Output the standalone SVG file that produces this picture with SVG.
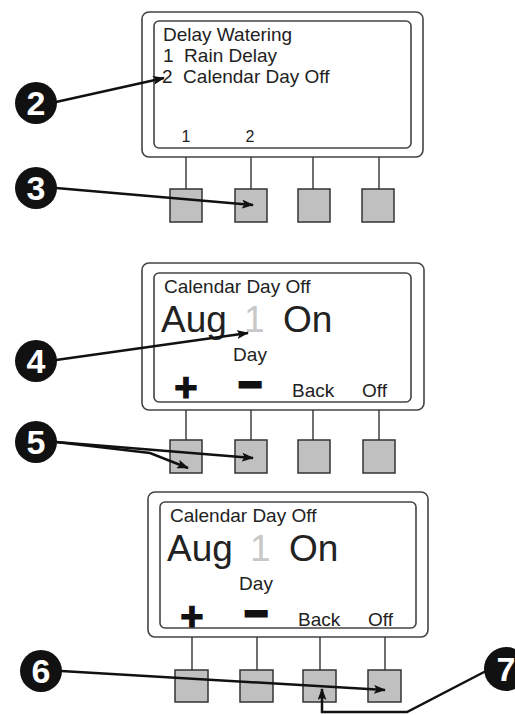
<svg xmlns="http://www.w3.org/2000/svg" width="515" height="715" viewBox="0 0 515 715">
<style>
.frame{fill:#fff;stroke:#444;stroke-width:1.6}
.screen{fill:#fff;stroke:#444;stroke-width:1.6}
.stem{stroke:#333;stroke-width:1.4}
.btn{fill:#c0c0c0;stroke:#333;stroke-width:1.5}
.t{font-family:"Liberation Sans",Arial,sans-serif;fill:#222;white-space:pre}
.s{font-size:19px}
.n{font-size:16px}
.big{font-size:37px}
.dim{fill:#c8c8c8}
.sym{font-family:"Liberation Sans",Arial,sans-serif;font-weight:bold;fill:#111;stroke:#111}
.conn{fill:none;stroke:#111;stroke-width:2.5;marker-end:url(#ah)}
.badge circle{fill:#111}
.badge text{font-family:"Liberation Sans",Arial,sans-serif;font-weight:bold;font-size:34px;fill:#fff;text-anchor:middle}
</style>
<defs>
<marker id="ah" markerUnits="userSpaceOnUse" markerWidth="12" markerHeight="9" refX="11" refY="4.5" orient="auto">
<path d="M0,0 L12,4.5 L0,9 L2.5,4.5 z" fill="#111"/>
</marker>
</defs>
<rect width="515" height="715" fill="#fff"/>

<g id="panel1">
<rect class="frame" x="142" y="12" width="281" height="145" rx="7"/>
<rect class="screen" x="154" y="21" width="257" height="127" rx="5"/>
<text class="t s" x="163" y="41">Delay Watering</text>
<text class="t s" x="163" y="62">1  Rain Delay</text>
<text class="t s" x="162" y="83">2  Calendar Day Off</text>
<text class="t n" x="186" y="142" text-anchor="middle">1</text>
<text class="t n" x="250" y="142" text-anchor="middle">2</text>
<line class="stem" x1="186" y1="157" x2="186" y2="189"/>
<line class="stem" x1="251" y1="157" x2="251" y2="189"/>
<line class="stem" x1="313" y1="157" x2="313" y2="189"/>
<line class="stem" x1="379" y1="157" x2="379" y2="189"/>
<rect class="btn" x="170" y="189" width="32" height="33"/>
<rect class="btn" x="235" y="189" width="32" height="33"/>
<rect class="btn" x="298" y="189" width="32" height="33"/>
<rect class="btn" x="362" y="189" width="32" height="33"/>
</g>

<g id="panel2">
<rect class="frame" x="142" y="263" width="282" height="147" rx="7"/>
<rect class="screen" x="154" y="273" width="257" height="129" rx="5"/>
<text class="t s" x="164" y="293">Calendar Day Off</text>
<text class="t big" x="161" y="332">Aug</text>
<text class="t big dim" x="244" y="332">1</text>
<text class="t big" x="283" y="332">On</text>
<text class="t s" x="250" y="361" text-anchor="middle">Day</text>
<text class="sym" x="186" y="401" font-size="40" stroke-width="1.2" text-anchor="middle">+</text>
<text class="sym" x="250" y="398" font-size="40" stroke-width="3" text-anchor="middle">−</text>
<text class="t s" x="292" y="397">Back</text>
<text class="t s" x="362" y="397">Off</text>
<line class="stem" x1="186" y1="410" x2="186" y2="440"/>
<line class="stem" x1="251" y1="410" x2="251" y2="440"/>
<line class="stem" x1="313" y1="410" x2="313" y2="440"/>
<line class="stem" x1="379" y1="410" x2="379" y2="440"/>
<rect class="btn" x="170" y="440" width="32" height="33"/>
<rect class="btn" x="235" y="440" width="32" height="33"/>
<rect class="btn" x="298" y="440" width="32" height="33"/>
<rect class="btn" x="363" y="440" width="32" height="33"/>
</g>

<g id="panel3">
<rect class="frame" x="148" y="492" width="280" height="145" rx="7"/>
<rect class="screen" x="160" y="502" width="256" height="126" rx="5"/>
<text class="t s" x="170" y="522">Calendar Day Off</text>
<text class="t big" x="167" y="561">Aug</text>
<text class="t big dim" x="250" y="561">1</text>
<text class="t big" x="289" y="561">On</text>
<text class="t s" x="256" y="590" text-anchor="middle">Day</text>
<text class="sym" x="192" y="630" font-size="40" stroke-width="1.2" text-anchor="middle">+</text>
<text class="sym" x="256" y="627" font-size="40" stroke-width="3" text-anchor="middle">−</text>
<text class="t s" x="298" y="626">Back</text>
<text class="t s" x="368" y="626">Off</text>
<line class="stem" x1="192" y1="637" x2="192" y2="670"/>
<line class="stem" x1="257" y1="637" x2="257" y2="670"/>
<line class="stem" x1="320" y1="637" x2="320" y2="670"/>
<line class="stem" x1="385" y1="637" x2="385" y2="670"/>
<rect class="btn" x="175" y="670" width="33" height="32"/>
<rect class="btn" x="240" y="670" width="33" height="32"/>
<rect class="btn" x="303" y="670" width="33" height="32"/>
<rect class="btn" x="368" y="670" width="33" height="32"/>
</g>

<g id="connectors">
<line class="conn" x1="56" y1="102" x2="164" y2="78"/>
<line class="conn" x1="56" y1="188" x2="253" y2="205"/>
<line class="conn" x1="56" y1="360" x2="248" y2="333"/>
<polyline class="conn" points="56,442 150,453 188,468"/>
<line class="conn" x1="56" y1="442" x2="253" y2="458"/>
<line class="conn" x1="61" y1="671" x2="385" y2="690"/>
<polyline class="conn" points="486,671 407,712 322,712 322,689"/>
</g>

<g id="badge2" class="badge"><circle cx="36" cy="103" r="21"/><text x="36" y="115">2</text></g>
<g id="badge3" class="badge"><circle cx="36" cy="188" r="21"/><text x="36" y="200">3</text></g>
<g id="badge4" class="badge"><circle cx="36" cy="361" r="21"/><text x="36" y="373">4</text></g>
<g id="badge5" class="badge"><circle cx="36" cy="442" r="21"/><text x="36" y="454">5</text></g>
<g id="badge6" class="badge"><circle cx="41" cy="671" r="21"/><text x="41" y="683">6</text></g>
<g id="badge7" class="badge"><circle cx="506" cy="669" r="22"/><text x="506" y="681">7</text></g>
</svg>
